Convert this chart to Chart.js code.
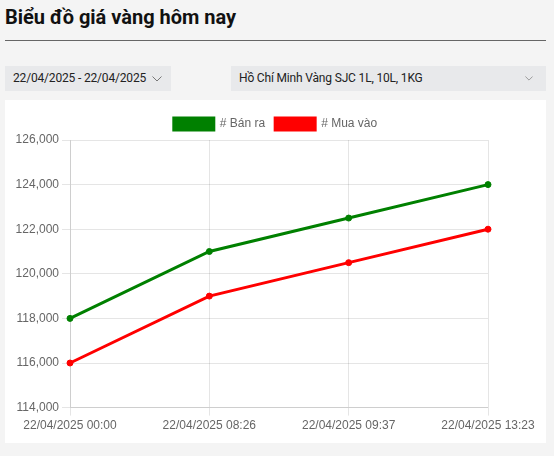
<!DOCTYPE html>
<html>
<head>
<meta charset="utf-8">
<script src="https://cdn.jsdelivr.net/npm/chart.js@4/dist/chart.umd.min.js"></script>
<style>
  html, body { margin:0; padding:0; background:#f4f4f4; width:554px; height:456px; overflow:hidden; font-family: Roboto, "Liberation Sans", Arial, sans-serif; }
  #title { position:absolute; left:5px; top:5px; font-size:20px; font-weight:700; color:#111; font-family:Roboto, sans-serif; }
  #rule { position:absolute; left:5px; top:40px; width:541px; height:1px; background:#666; }
  .dd { position:absolute; top:66px; height:25px; background:#e8e9eb; font-size:12px; letter-spacing:-0.17px; color:#222; line-height:25px; font-family:Roboto, sans-serif; padding-left:8px; box-sizing:border-box; }
  #dd1 { left:5px; width:166px; }
  #dd2 { left:231px; width:315px; }
  .chev { position:absolute; top:10px; width:10px; height:6px; }
  #dd1 .chev { left:147px; }
  #dd2 .chev { right:13px; top:10px; }
  #card { position:absolute; left:5px; top:100px; width:541px; height:343px; background:#fff; }
  #wrap { position:absolute; left:0; top:8px; width:541px; height:328px; }
</style>
</head>
<body>
<div id="title">Biểu đồ giá vàng hôm nay</div>
<div id="rule"></div>
<div class="dd" id="dd1">22/04/2025 - 22/04/2025<svg class="chev" viewBox="0 0 10 6"><polyline points="0.5,0.5 5,5 9.5,0.5" fill="none" stroke="#777" stroke-width="1"/></svg></div>
<div class="dd" id="dd2">Hồ Chí Minh Vàng SJC 1L, 10L, 1KG<svg class="chev" viewBox="0 0 10 6" style="width:8px;height:5px"><polyline points="0.5,0.5 5,5 9.5,0.5" fill="none" stroke="#999" stroke-width="1.2"/></svg></div>
<div id="card"><div id="wrap"><canvas id="c"></canvas></div></div>
<script>
const categories = ["22/04/2025 00:00", "22/04/2025 08:26", "22/04/2025 09:37", "22/04/2025 13:23"];
const banRa = [118000, 121000, 122500, 124000];
const muaVao = [116000, 119000, 120500, 122000];
const seriesNames = ["# Bán ra", "# Mua vào"];

Chart.defaults.font.family = '"Liberation Sans", Arial, sans-serif';
Chart.defaults.font.size = 12;
Chart.defaults.color = '#666';

new Chart(document.getElementById('c'), {
  type: 'line',
  data: {
    labels: categories,
    datasets: [
      { label: seriesNames[0], data: banRa, borderColor: 'green', backgroundColor: 'green', borderWidth: 3, pointRadius: 3, pointBorderWidth: 1, pointBackgroundColor: 'green', tension: 0, fill: false, yAxisID: 'y' },
      { label: seriesNames[1], data: muaVao, borderColor: 'red', backgroundColor: 'red', borderWidth: 3, pointRadius: 3, pointBorderWidth: 1, pointBackgroundColor: 'red', tension: 0, fill: false, yAxisID: 'y' }
    ]
  },
  options: {
    responsive: true,
    maintainAspectRatio: false,
    animation: false,
    layout: { padding: 0 },
    plugins: {
      legend: { labels: { boxWidth: 40, color: '#666' } },
      tooltip: { enabled: false }
    },
    scales: {
      x: {
        offset: false,
        grid: { color: 'rgba(0,0,0,0.1)', tickLength: 8 },
        ticks: { maxRotation: 0, autoSkip: false, color: '#666' }
      },
      y: {
        position: 'left',
        min: 114000, max: 126000,
        grid: { color: 'rgba(0,0,0,0.1)', tickLength: 8 },
        ticks: { stepSize: 2000, color: '#666', callback: v => v.toLocaleString('en-US') },
        afterFit: s => { s.width = 65; }
      },
      yR: {
        position: 'right',
        display: true,
        grid: { display: false, drawTicks: false },
        border: { display: false },
        ticks: { display: false },
        afterFit: s => { s.width = 58; }
      }
    }
  }
});
</script>
</body>
</html>
